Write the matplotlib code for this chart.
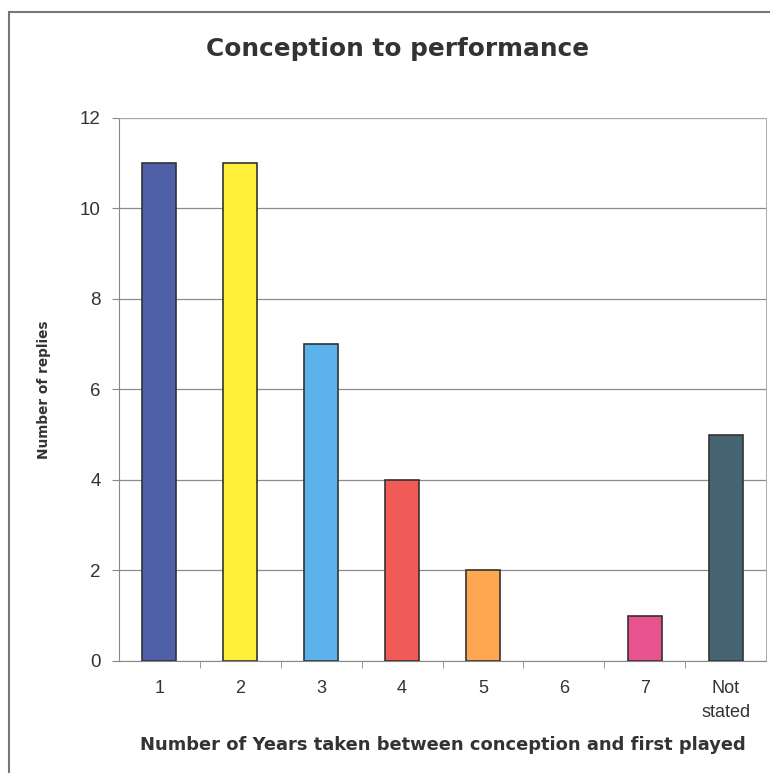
import numpy as np
import matplotlib.pyplot as plt
from matplotlib.patches import Rectangle

plt.rcParams['font.family'] = ['Liberation Sans', 'DejaVu Sans']

categories = ['1', '2', '3', '4', '5', '6', '7', 'Not\nstated']
replies = [11, 11, 7, 4, 2, 0, 1, 5]
bar_colors = ['#5060a8', '#fff03a', '#5cb2ea', '#f25a58', '#ffa650',
              '#c8c8c8', '#e8528e', '#476473']

fig = plt.figure(figsize=(7.7, 7.73), dpi=100)
ax = fig.add_axes([0.1545, 0.1449, 0.8405, 0.7025])

x = np.arange(len(categories))
edges = ['#333333' if v > 0 else 'none' for v in replies]
ax.bar(x, replies, width=0.42, color=bar_colors, edgecolor=edges,
       linewidth=1.2, zorder=3)

ax.set_xlim(-0.5, len(categories) - 0.5)
ax.set_ylim(0, 12)
ax.set_yticks(range(0, 13, 2))
ax.set_xticks(x)
ax.set_xticklabels(categories, linespacing=1.5)
ax.set_xticks(np.arange(0.5, len(categories) - 0.5), minor=True)
ax.tick_params(axis='x', which='major', length=0, pad=14, labelsize=13,
               colors='#333333')
ax.tick_params(axis='x', which='minor', length=5, color='#888888', direction='out')
ax.tick_params(axis='y', length=5, color='#888888', labelsize=13.5,
               colors='#333333', pad=8)
ax.yaxis.grid(True, color='#8c8c8c', linewidth=0.9, zorder=0)
for side in ['left', 'bottom']:
    ax.spines[side].set_color('#888888')
for side in ['top', 'right']:
    ax.spines[side].set_color('#aaaaaa')
    ax.spines[side].set_linewidth(0.7)

ax.set_ylabel('Number of replies', fontsize=9.8, fontweight='bold',
              family='DejaVu Sans', color='#333333', labelpad=21)
ax.set_xlabel('Number of Years taken between conception and first played',
              fontsize=12.9, fontweight='bold', family='DejaVu Sans',
              color='#333333', labelpad=11)
fig.text(0.516, 0.937, 'Conception to performance', ha='center', va='center',
         fontsize=17.8, fontweight='bold', family='DejaVu Sans', color='#333333')

fig.patches.append(Rectangle((9 / 770, -0.1), 1.2, 1.1 - 12 / 773,
                             transform=fig.transFigure, fill=False,
                             edgecolor='#777777', linewidth=1.5))

fig.savefig('out.png', dpi=100)
